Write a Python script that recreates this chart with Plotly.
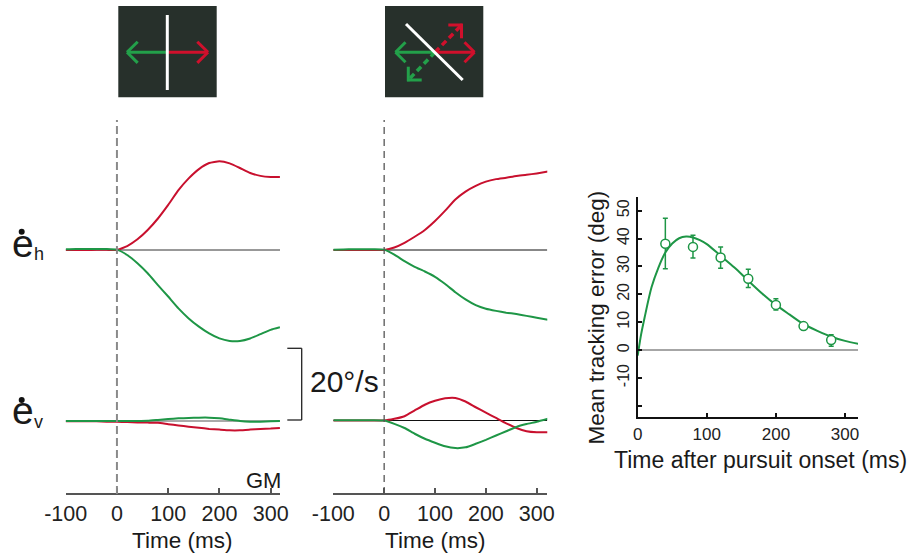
import plotly.graph_objects as go

# ---------------- data ----------------
t_left = [-100, -80, -60, -40, -20, 0, 20, 40, 60, 80, 100, 120, 140, 160, 180, 200, 220, 240, 260, 280, 300, 318]
red_h_left = [0, 0, 0, 0.05, 0.05, 0, 1.1, 3.0, 5.6, 8.8, 12.6, 16.7, 20.0, 22.6, 24.3, 24.8, 24.2, 22.9, 21.5, 20.7, 20.4, 20.4]
green_h_left = [0.2, 0.3, 0.3, 0.3, 0.3, 0.1, -1.4, -3.7, -6.5, -9.8, -13.0, -16.3, -19.1, -21.4, -23.3, -24.7, -25.4, -25.4, -24.7, -23.5, -22.3, -21.6]
red_v_left = [-0.1, -0.1, -0.1, -0.1, -0.2, -0.2, -0.3, -0.4, -0.45, -0.5, -0.9, -1.25, -1.6, -1.9, -2.2, -2.4, -2.6, -2.6, -2.4, -2.2, -2.1, -1.95]
green_v_left = [0, 0, 0, 0, 0, 0, 0, 0, 0.05, 0.3, 0.56, 0.75, 0.84, 0.93, 0.93, 0.74, 0.37, 0, -0.2, -0.2, -0.1, 0]

t_mid = [-100, -80, -60, -40, -20, 0, 20, 40, 60, 80, 100, 120, 140, 160, 180, 200, 220, 240, 260, 280, 300, 322]
red_h_mid = [0, 0, 0, 0, 0, 0, 0.7, 2.0, 3.7, 5.6, 8.1, 11.0, 14.1, 16.3, 17.9, 19.1, 19.8, 20.2, 20.7, 21.0, 21.4, 21.9]
green_h_mid = [0.1, 0.15, 0.2, 0.2, 0.2, 0.1, -1.3, -3.1, -4.7, -6.0, -7.5, -9.5, -11.8, -13.8, -15.4, -16.4, -17.0, -17.5, -17.9, -18.4, -18.9, -19.5]
red_v_mid = [0, 0, 0, 0, 0, 0, 0.47, 1.2, 2.8, 4.4, 5.5, 6.2, 6.3, 5.3, 3.7, 2.2, 0.7, -0.8, -2.1, -3.0, -3.3, -3.3]
green_v_mid = [0.1, 0.1, 0.1, 0.1, 0.1, 0, -0.93, -2.1, -3.7, -5.1, -6.2, -7.2, -7.7, -7.5, -6.5, -5.4, -4.2, -3.0, -1.8, -1.0, -0.37, 0.47]

fit_t = [0, 5, 10, 20, 30, 40, 50, 60, 70, 80, 90, 100, 120, 140, 160, 180, 200, 220, 240, 260, 280, 300, 320]
fit_err = [-2, 5.7, 11.7, 22.5, 29.6, 35.0, 38.2, 40.1, 40.7, 40.4, 39.4, 38.0, 33.8, 29.6, 24.9, 20.3, 16.2, 12.7, 9.3, 6.9, 4.8, 3.3, 2.2]
pt_t = [40, 80, 120, 160, 200, 240, 280]
pt_err = [38.1, 37.0, 33.2, 25.6, 16.2, 8.6, 3.6]
pt_hi = [47.3, 41.2, 37.0, 29.0, 18.4, 9.8, 5.5]
pt_lo = [29.2, 33.0, 29.3, 22.4, 14.4, 7.4, 1.4]

time_ticks = [-100, 0, 100, 200, 300]
time_ticktext = ["-100", "0", "100", "200", "300"]
err_yticks = [-20, -10, 0, 10, 20, 30, 40, 50]
err_yticktext = ["", "-10", "0", "10", "20", "30", "40", "50"]
rx_ticks = [0, 100, 200, 300]

# ---------------- style / layout ----------------
W, H = 909, 559
RED = "#C8102E"
GREEN = "#1E9646"
FONT = "Liberation Sans, Arial, sans-serif"
S = 3.58  # px per deg/s


def px(x):
    return x / W


def py(y):
    return 1 - y / H


fig = go.Figure()


def line_trace(x, y, xa, ya, color):
    fig.add_trace(go.Scatter(x=x, y=y, xaxis=xa, yaxis=ya, mode="lines",
                             line=dict(color=color, width=2, shape="spline", smoothing=0.4),
                             hoverinfo="skip", showlegend=False))


line_trace(t_left, red_h_left, "x", "y", RED)
line_trace(t_left, green_h_left, "x", "y", GREEN)
line_trace(t_left, red_v_left, "x", "y2", RED)
line_trace(t_left, green_v_left, "x", "y2", GREEN)
line_trace(t_mid, red_h_mid, "x2", "y3", RED)
line_trace(t_mid, green_h_mid, "x2", "y3", GREEN)
line_trace(t_mid, red_v_mid, "x2", "y4", RED)
line_trace(t_mid, green_v_mid, "x2", "y4", GREEN)

fig.add_trace(go.Scatter(x=fit_t, y=fit_err, xaxis="x3", yaxis="y5", mode="lines",
                         line=dict(color=GREEN, width=2, shape="spline", smoothing=0.8),
                         hoverinfo="skip", showlegend=False))
fig.add_trace(go.Scatter(
    x=pt_t, y=pt_err, xaxis="x3", yaxis="y5", mode="markers",
    marker=dict(symbol="circle", size=9, color="white", line=dict(color=GREEN, width=1.5)),
    error_y=dict(type="data", symmetric=False,
                 array=[h - v for h, v in zip(pt_hi, pt_err)],
                 arrayminus=[v - l for v, l in zip(pt_err, pt_lo)],
                 color=GREEN, thickness=1.5, width=2.5),
    hoverinfo="skip", showlegend=False))

tick_common = dict(ticks="inside", ticklen=5, tickwidth=1.5, tickcolor="#555",
                   showline=True, linecolor="#555", linewidth=1.5,
                   showgrid=False, zeroline=False, automargin=False,
                   tickfont=dict(family=FONT, size=21.5, color="#222"))

fig.update_layout(
    template="none",
    width=W, height=H, margin=dict(l=0, r=0, t=0, b=0, pad=0, autoexpand=False),
    paper_bgcolor="white", plot_bgcolor="rgba(0,0,0,0)", showlegend=False,
    xaxis=dict(domain=[px(65.7), px(280)], range=[-100, 318.2], anchor="free", position=py(494),
               tickvals=time_ticks, ticktext=time_ticktext, **tick_common),
    yaxis=dict(domain=[py(370), py(130)], range=[-(370 - 250) / S, (250 - 130) / S], anchor="x",
               visible=False, automargin=False),
    yaxis2=dict(domain=[py(494), py(380)], range=[-(494 - 421) / S, (421 - 380) / S], anchor="x",
                visible=False, automargin=False),
    xaxis2=dict(domain=[px(333.3), px(547.3)], range=[-100, 320.8], anchor="free", position=py(494),
                tickvals=time_ticks, ticktext=time_ticktext, **tick_common),
    yaxis3=dict(domain=[py(370), py(130)], range=[-(370 - 250) / S, (250 - 130) / S], anchor="x2",
                visible=False, automargin=False),
    yaxis4=dict(domain=[py(494), py(380)], range=[-(494 - 420.5) / S, (420.5 - 380) / S], anchor="x2",
                visible=False, automargin=False),
    xaxis3=dict(domain=[px(637.7), px(858)], range=[0, 318.8], anchor="y5",
                tickvals=rx_ticks, ticks="inside", ticklen=4, tickwidth=1.5, tickcolor="#111",
                showline=True, linecolor="#111", linewidth=2, showgrid=False, zeroline=False,
                automargin=False, tickfont=dict(family=FONT, size=17, color="#222")),
    yaxis5=dict(domain=[py(417.3), py(196.7)], range=[-24.1, 55], anchor="x3",
                tickvals=err_yticks, ticktext=err_yticktext, tickangle=-90,
                ticks="inside", ticklen=4, tickwidth=1.5, tickcolor="#111",
                showline=True, linecolor="#111", linewidth=2, showgrid=False, zeroline=False,
                automargin=False, tickfont=dict(family=FONT, size=16, color="#222")),
)

shapes = []
# baselines
shapes.append(dict(type="line", xref="x", yref="y", x0=-100, x1=318.2, y0=0, y1=0, layer="below",
                   line=dict(color="#333", width=1)))
shapes.append(dict(type="line", xref="x", yref="y2", x0=-100, x1=318.2, y0=0, y1=0, layer="below",
                   line=dict(color="#555", width=1)))
shapes.append(dict(type="line", xref="x2", yref="y3", x0=-100, x1=320.8, y0=0, y1=0, layer="below",
                   line=dict(color="#111", width=1)))
shapes.append(dict(type="line", xref="x2", yref="y4", x0=-100, x1=320.8, y0=0, y1=0, layer="below",
                   line=dict(color="#111", width=1)))
shapes.append(dict(type="line", xref="x3", yref="y5", x0=0, x1=318.8, y0=0, y1=0, layer="below",
                   line=dict(color="#888", width=1.5)))
# onset dashed lines
shapes.append(dict(type="line", xref="x", yref="paper", x0=0, x1=0, y0=py(494), y1=py(120),
                   line=dict(color="#8a8a8a", width=2, dash="8px,4px")))
shapes.append(dict(type="line", xref="x2", yref="paper", x0=0, x1=0, y0=py(494), y1=py(120),
                   line=dict(color="#555", width=1.3, dash="7px,5px")))
# scale bracket
for (x0, y0, x1, y1) in [(287.3, 348.3, 301.7, 348.3), (301.7, 348.3, 301.7, 420), (287.3, 420, 301.7, 420)]:
    shapes.append(dict(type="line", xref="paper", yref="paper", x0=px(x0), y0=py(y0), x1=px(x1), y1=py(y1),
                       line=dict(color="#222", width=1.3)))
# dots over e
for cy in (231.7, 400):
    shapes.append(dict(type="circle", xref="paper", yref="paper", x0=px(18.7), x1=px(24.7),
                       y0=py(cy + 3), y1=py(cy - 3), fillcolor="#111", line=dict(width=0)))

# icons
ICON_BG = "#27302B"
for (x0, x1) in [(118.3, 216.7), (385, 483.3)]:
    shapes.append(dict(type="rect", xref="paper", yref="paper", x0=px(x0), x1=px(x1), y0=py(97.3), y1=py(6),
                       fillcolor=ICON_BG, line=dict(width=0)))


def seg(x0, y0, x1, y1, color, width=3, dash=None):
    ln = dict(color=color, width=width)
    if dash:
        ln["dash"] = dash
    shapes.append(dict(type="line", xref="paper", yref="paper", x0=px(x0), y0=py(y0), x1=px(x1), y1=py(y1), line=ln))


IG = "#23A04A"
IR = "#D0102C"
# left icon
seg(167.3, 52.3, 127, 52.3, IG)
seg(127, 52.3, 137.7, 41.7, IG)
seg(127, 52.3, 137.7, 62.9, IG)
seg(167.3, 52.3, 208, 52.3, IR)
seg(208, 52.3, 197.3, 41.7, IR)
seg(208, 52.3, 197.3, 62.9, IR)
seg(167.3, 15, 167.3, 90, "white", 3)
# middle icon
seg(435, 52.3, 395.5, 52.3, IG)
seg(395.5, 52.3, 405.5, 42.3, IG)
seg(395.5, 52.3, 405.5, 62.3, IG)
seg(435, 52.3, 474.5, 52.3, IR)
seg(474.5, 52.3, 464.5, 42.3, IR)
seg(474.5, 52.3, 464.5, 62.3, IR)
seg(435, 52.3, 461.2, 25.5, IR, 3.5, "6px,4px")
seg(448.3, 25, 462.5, 25, IR)
seg(461.5, 23.7, 461.5, 38.3, IR)
seg(435, 52.3, 408.8, 79.5, IG, 3.5, "6px,4px")
seg(408.3, 66.7, 408.3, 81.3, IG)
seg(407, 80, 421.7, 80, IG)
seg(406, 24, 462.7, 80, "white", 3)

fig.update_layout(shapes=shapes)

ann = []


def text(x, y, s, size, xanchor="center", angle=0, color="#1a1a1a"):
    ann.append(dict(xref="paper", yref="paper", x=px(x), y=py(y), text=s, showarrow=False,
                    xanchor=xanchor, yanchor="middle", textangle=angle,
                    font=dict(family=FONT, size=size, color=color)))


text(22.5, 243, "e", 39)
text(31.5, 254, "h", 18, xanchor="left")
text(22.5, 410, "e", 39)
text(31.5, 422, "v", 18, xanchor="left")
text(344, 381, "20°/s", 30)
text(263, 480, "GM", 22)
text(182, 540, "Time (ms)", 22.5)
text(435, 540, "Time (ms)", 22.5)
text(760, 460, "Time after pursuit onset (ms)", 23)
text(595.5, 318, "Mean tracking error (deg)", 22.5, angle=-90)

fig.update_layout(annotations=ann)

fig.write_html("out.html")
